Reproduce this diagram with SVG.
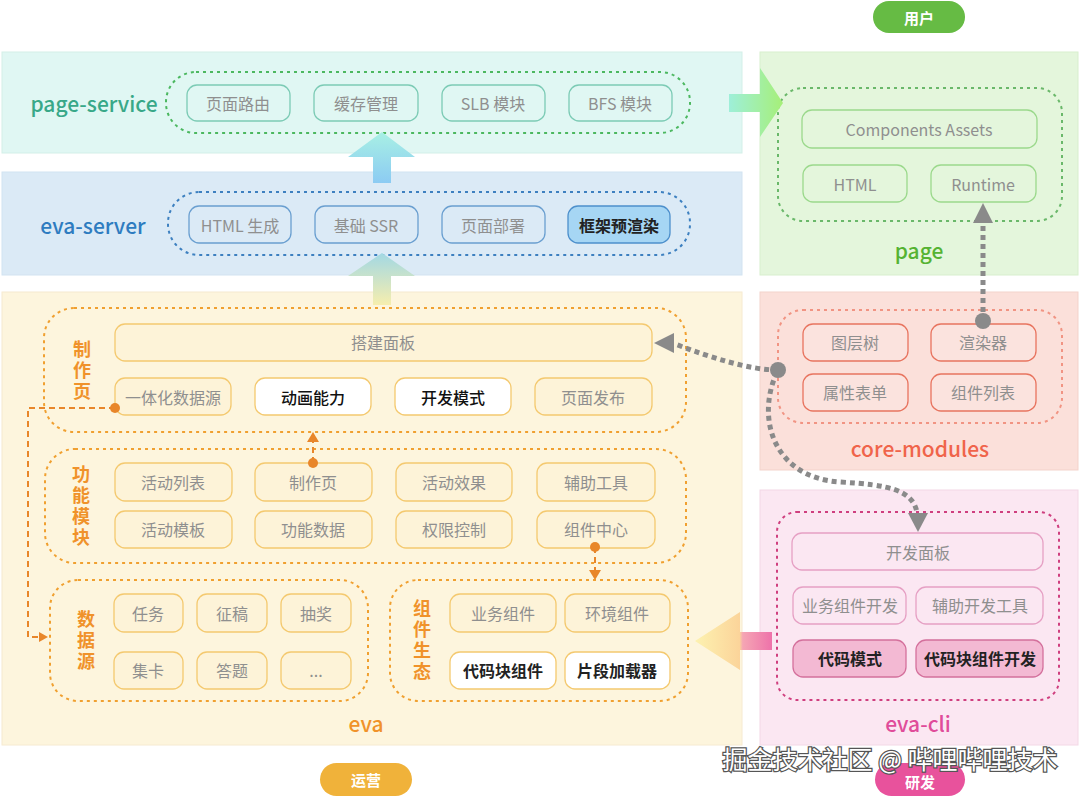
<svg xmlns="http://www.w3.org/2000/svg" width="1080" height="797" viewBox="0 0 1080 797">
<defs>
<style>
text{font-family:"Noto Sans CJK SC","Noto Sans",sans-serif;dominant-baseline:central;text-anchor:middle}
.bt{font-size:16px;fill:#8f8f8f}
.dk{font-size:16px;fill:#222;font-weight:bold}
.dn{font-size:16px;fill:#111;font-weight:500}
.lbl{font-size:21px;font-weight:500}
.vl{font-size:18px;font-weight:bold;fill:#f0922a;writing-mode:vertical-rl;letter-spacing:3px}
.ps-box{fill:none;stroke:#7ccbb5;stroke-width:1.3}
.es-box{fill:none;stroke:#6a9fd0;stroke-width:1.3}
.pg-box{fill:none;stroke:#9bd98c;stroke-width:1.3}
.cm-box{fill:#fbe3de;stroke:#e8745f;stroke-width:1.3}
.cli-box{fill:none;stroke:#e6a0c4;stroke-width:1.3}
.cli-hi{fill:#f3b9d3;stroke:#d4709c;stroke-width:1.3}
.ev-box{fill:#fdf3d8;stroke:#f4c96f;stroke-width:1.3}
.ev-w{fill:#ffffff;stroke:#f4c96f;stroke-width:1.3}
.dot{fill:none;stroke-width:2;stroke-dasharray:3 4}
.gline{fill:none;stroke:#8a8a8a;stroke-width:5;stroke-dasharray:5 4}
.oline{fill:none;stroke:#e8862a;stroke-width:2;stroke-dasharray:6 4}
.pill{font-size:15px;font-weight:bold;fill:#fff}
</style>
<linearGradient id="gR" x1="0" y1="0" x2="1" y2="0"><stop offset="0" stop-color="#9eefd9"/><stop offset="1" stop-color="#a6ef78"/></linearGradient>
<linearGradient id="gU1" x1="0" y1="1" x2="0" y2="0"><stop offset="0" stop-color="#8ccbf3"/><stop offset="1" stop-color="#a8f0e4"/></linearGradient>
<linearGradient id="gU2" x1="0" y1="1" x2="0" y2="0"><stop offset="0" stop-color="#f6eeae"/><stop offset="1" stop-color="#a2d8e4"/></linearGradient>
<linearGradient id="gL" gradientUnits="userSpaceOnUse" x1="772" y1="0" x2="695" y2="0"><stop offset="0" stop-color="#ee72aa"/><stop offset="0.38" stop-color="#f5a6b4"/><stop offset="0.42" stop-color="#fbd49a"/><stop offset="1" stop-color="#fdf2b0"/></linearGradient>
</defs>

<!-- bands -->
<g id="page-service">
<rect x="2" y="52" width="740" height="101" fill="#e0f7f3" stroke="#d3efe8"/>
<text x="94" y="103" class="lbl" fill="#38a888">page-service</text>
<rect x="166" y="72" width="524" height="61" rx="30" class="dot" stroke="#4cb860"/>
<rect x="187" y="85" width="103" height="36" rx="10" class="ps-box"/><text x="238" y="103" class="bt">页面路由</text>
<rect x="314" y="85" width="104" height="36" rx="10" class="ps-box"/><text x="366" y="103" class="bt">缓存管理</text>
<rect x="442" y="85" width="103" height="36" rx="10" class="ps-box"/><text x="493" y="103" class="bt">SLB 模块</text>
<rect x="569" y="85" width="103" height="36" rx="10" class="ps-box"/><text x="620" y="103" class="bt">BFS 模块</text>
</g>

<g id="eva-server">
<rect x="2" y="172" width="740" height="103" fill="#dbeaf6" stroke="#d2e3f1"/>
<text x="93" y="225" class="lbl" fill="#2e7cc0">eva-server</text>
<rect x="168" y="192" width="522" height="63" rx="31" class="dot" stroke="#3d80c0"/>
<rect x="189" y="206" width="102" height="37" rx="10" class="es-box"/><text x="240" y="225" class="bt">HTML 生成</text>
<rect x="315" y="206" width="103" height="37" rx="10" class="es-box"/><text x="366" y="225" class="bt">基础 SSR</text>
<rect x="442" y="206" width="103" height="37" rx="10" class="es-box"/><text x="493" y="225" class="bt">页面部署</text>
<rect x="568" y="206" width="102" height="37" rx="10" fill="#a6d6f4" stroke="#4d90cc" stroke-width="1.3"/><text x="619" y="225" class="dk">框架预渲染</text>
</g>

<g id="page">
<rect x="760" y="52" width="318" height="223" fill="#e4f6dc" stroke="#d8efce"/>
<rect x="778" y="88" width="284" height="133" rx="25" class="dot" stroke="#6ab86a"/>
<rect x="802" y="110" width="235" height="38" rx="10" class="pg-box"/><text x="919" y="129" class="bt">Components Assets</text>
<rect x="803" y="165" width="104" height="37" rx="10" class="pg-box"/><text x="855" y="184" class="bt" fill="#888">HTML</text>
<rect x="931" y="165" width="105" height="37" rx="10" class="pg-box"/><text x="983" y="184" class="bt">Runtime</text>
<text x="919" y="250" class="lbl" fill="#55b333" font-weight="bold">page</text>
</g>

<g id="core-modules">
<rect x="760" y="292" width="318" height="178" fill="#fbe0da" stroke="#f3d3cb"/>
<rect x="778" y="310" width="284" height="113" rx="25" class="dot" stroke="#f19483" stroke-width="1.5"/>
<rect x="803" y="324" width="105" height="37" rx="10" class="cm-box"/><text x="855" y="342" class="bt">图层树</text>
<rect x="931" y="324" width="105" height="37" rx="10" class="cm-box"/><text x="983" y="342" class="bt">渲染器</text>
<rect x="803" y="374" width="105" height="37" rx="10" class="cm-box"/><text x="855" y="392" class="bt">属性表单</text>
<rect x="931" y="374" width="105" height="37" rx="10" class="cm-box"/><text x="983" y="392" class="bt">组件列表</text>
<text x="920" y="448" class="lbl" fill="#f0644a">core-modules</text>
</g>

<g id="eva-cli">
<rect x="760" y="490" width="318" height="255" fill="#fbe7f2" stroke="#f3d8e6"/>
<rect x="777" y="512" width="282" height="188" rx="20" class="dot" stroke="#cf3f7f"/>
<rect x="792" y="533" width="251" height="37" rx="10" class="cli-box"/><text x="918" y="552" class="bt">开发面板</text>
<rect x="793" y="587" width="113" height="37" rx="10" class="cli-box"/><text x="850" y="605" class="bt">业务组件开发</text>
<rect x="916" y="587" width="127" height="37" rx="10" class="cli-box"/><text x="980" y="605" class="bt">辅助开发工具</text>
<rect x="793" y="640" width="113" height="37" rx="10" class="cli-hi"/><text x="850" y="658" class="dk">代码模式</text>
<rect x="916" y="640" width="127" height="37" rx="10" class="cli-hi"/><text x="980" y="658" class="dk">代码块组件开发</text>
<text x="918" y="723" class="lbl" fill="#e04c9a">eva-cli</text>
</g>

<g id="eva">
<rect x="2" y="292" width="740" height="453" fill="#fdf5dd" stroke="#f6ead0"/>
<text x="366" y="723" class="lbl" fill="#f0922a">eva</text>
</g>

<g id="zhizuoye">
<rect x="44" y="308" width="642" height="124" rx="30" class="dot" stroke="#f0a030"/>
<text x="82" y="372" class="vl">制作页</text>
<rect x="115" y="324" width="537" height="37" rx="10" class="ev-box"/><text x="383" y="342" class="bt">搭建面板</text>
<rect x="115" y="378" width="116" height="37" rx="10" class="ev-box"/><text x="173" y="397" class="bt">一体化数据源</text>
<rect x="255" y="378" width="116" height="37" rx="10" class="ev-w"/><text x="313" y="397" class="dn">动画能力</text>
<rect x="395" y="378" width="116" height="37" rx="10" class="ev-w"/><text x="453" y="397" class="dn">开发模式</text>
<rect x="535" y="378" width="117" height="37" rx="10" class="ev-box"/><text x="593" y="397" class="bt">页面发布</text>
</g>

<g id="gongneng">
<rect x="45" y="449" width="641" height="114" rx="30" class="dot" stroke="#f0a030"/>
<text x="81" y="507" class="vl">功能模块</text>
<rect x="115" y="463" width="117" height="38" rx="10" class="ev-box"/><text x="173" y="482" class="bt">活动列表</text>
<rect x="255" y="463" width="117" height="38" rx="10" class="ev-box"/><text x="313" y="482" class="bt">制作页</text>
<rect x="396" y="463" width="116" height="38" rx="10" class="ev-box"/><text x="454" y="482" class="bt">活动效果</text>
<rect x="537" y="463" width="118" height="38" rx="10" class="ev-box"/><text x="596" y="482" class="bt">辅助工具</text>
<rect x="115" y="511" width="117" height="37" rx="10" class="ev-box"/><text x="173" y="529" class="bt">活动模板</text>
<rect x="255" y="511" width="117" height="37" rx="10" class="ev-box"/><text x="313" y="529" class="bt">功能数据</text>
<rect x="396" y="511" width="116" height="37" rx="10" class="ev-box"/><text x="454" y="529" class="bt">权限控制</text>
<rect x="537" y="511" width="118" height="37" rx="10" class="ev-box"/><text x="596" y="529" class="bt">组件中心</text>
</g>

<g id="shujuyuan">
<rect x="50" y="580" width="318" height="121" rx="28" class="dot" stroke="#f0a030"/>
<text x="86" y="642" class="vl">数据源</text>
<rect x="114" y="594" width="69" height="38" rx="10" class="ev-box"/><text x="148" y="613" class="bt">任务</text>
<rect x="197" y="594" width="70" height="38" rx="10" class="ev-box"/><text x="232" y="613" class="bt">征稿</text>
<rect x="281" y="594" width="70" height="38" rx="10" class="ev-box"/><text x="316" y="613" class="bt">抽奖</text>
<rect x="114" y="652" width="69" height="37" rx="10" class="ev-box"/><text x="148" y="670" class="bt">集卡</text>
<rect x="197" y="652" width="70" height="37" rx="10" class="ev-box"/><text x="232" y="670" class="bt">答题</text>
<rect x="281" y="652" width="70" height="37" rx="10" class="ev-box"/><text x="316" y="670" class="bt">...</text>
</g>

<g id="zujianshengtai">
<rect x="390" y="580" width="298" height="121" rx="28" class="dot" stroke="#f0a030"/>
<text x="422" y="641" class="vl">组件生态</text>
<rect x="450" y="594" width="106" height="38" rx="10" class="ev-box"/><text x="503" y="613" class="bt">业务组件</text>
<rect x="565" y="594" width="105" height="38" rx="10" class="ev-box"/><text x="617" y="613" class="bt">环境组件</text>
<rect x="450" y="652" width="106" height="37" rx="10" class="ev-w"/><text x="503" y="670" class="dk">代码块组件</text>
<rect x="565" y="652" width="105" height="37" rx="10" class="ev-w"/><text x="617" y="670" class="dk">片段加载器</text>
</g>

<g id="roles">
<rect x="873" y="1" width="92" height="32" rx="16" fill="#66bb44"/><text x="919" y="17" class="pill">用户</text>
<rect x="320" y="763" width="92" height="33" rx="16.5" fill="#f0b23a"/><text x="366" y="779" class="pill">运营</text>
<rect x="875" y="763" width="90" height="33" rx="16.5" fill="#e8529c"/><text x="920" y="781" class="pill">研发</text>
</g>

<g id="connectors">
<path d="M729 94 H760 V68 L783 103 L760 137 V112 H729 Z" fill="url(#gR)"/>
<path d="M373 183 V157 H348 L382 132 L415 157 H391 V183 Z" fill="url(#gU1)"/>
<path d="M373 305 V276 H348 L382 253 L415 276 H391 V305 Z" fill="url(#gU2)"/>
<path d="M772 632 H740 V612 L695 641 L740 670 V650 H772 Z" fill="url(#gL)"/>
<path d="M983 321 V224" class="gline"/>
<polygon points="983,203 973,223 993,223" fill="#8a8a8a"/>
<circle cx="983" cy="321" r="8" fill="#8a8a8a"/>
<path d="M778 370 C750 370 712 358 675 344" class="gline"/>
<polygon points="654,343 674,333 674,353" fill="#8a8a8a"/>
<path d="M777 372 C755 420 775 478 840 482 C890 485 912 490 917 512" class="gline"/>
<polygon points="918,532 908,513 928,513" fill="#8a8a8a"/>
<circle cx="778" cy="370" r="8" fill="#8a8a8a"/>
<path d="M115 408 H28 V637 H40" class="oline"/>
<polygon points="48,637 39,632 39,642" fill="#e8862a"/>
<circle cx="115" cy="408" r="5" fill="#e8862a"/>
<path d="M313 463 V442" class="oline"/>
<polygon points="313,432 307,442 319,442" fill="#e8862a"/>
<circle cx="313" cy="463" r="5" fill="#e8862a"/>
<path d="M595 547 V570" class="oline"/>
<polygon points="595,580 589,570 601,570" fill="#e8862a"/>
<circle cx="595" cy="547" r="5" fill="#e8862a"/>
</g>

<text x="890" y="758" font-size="25" fill="#ffffff" stroke="#555" stroke-width="2.5" paint-order="stroke" style="font-family:'Noto Sans CJK SC',sans-serif">掘金技术社区 @ 哔哩哔哩技术</text>
</svg>
